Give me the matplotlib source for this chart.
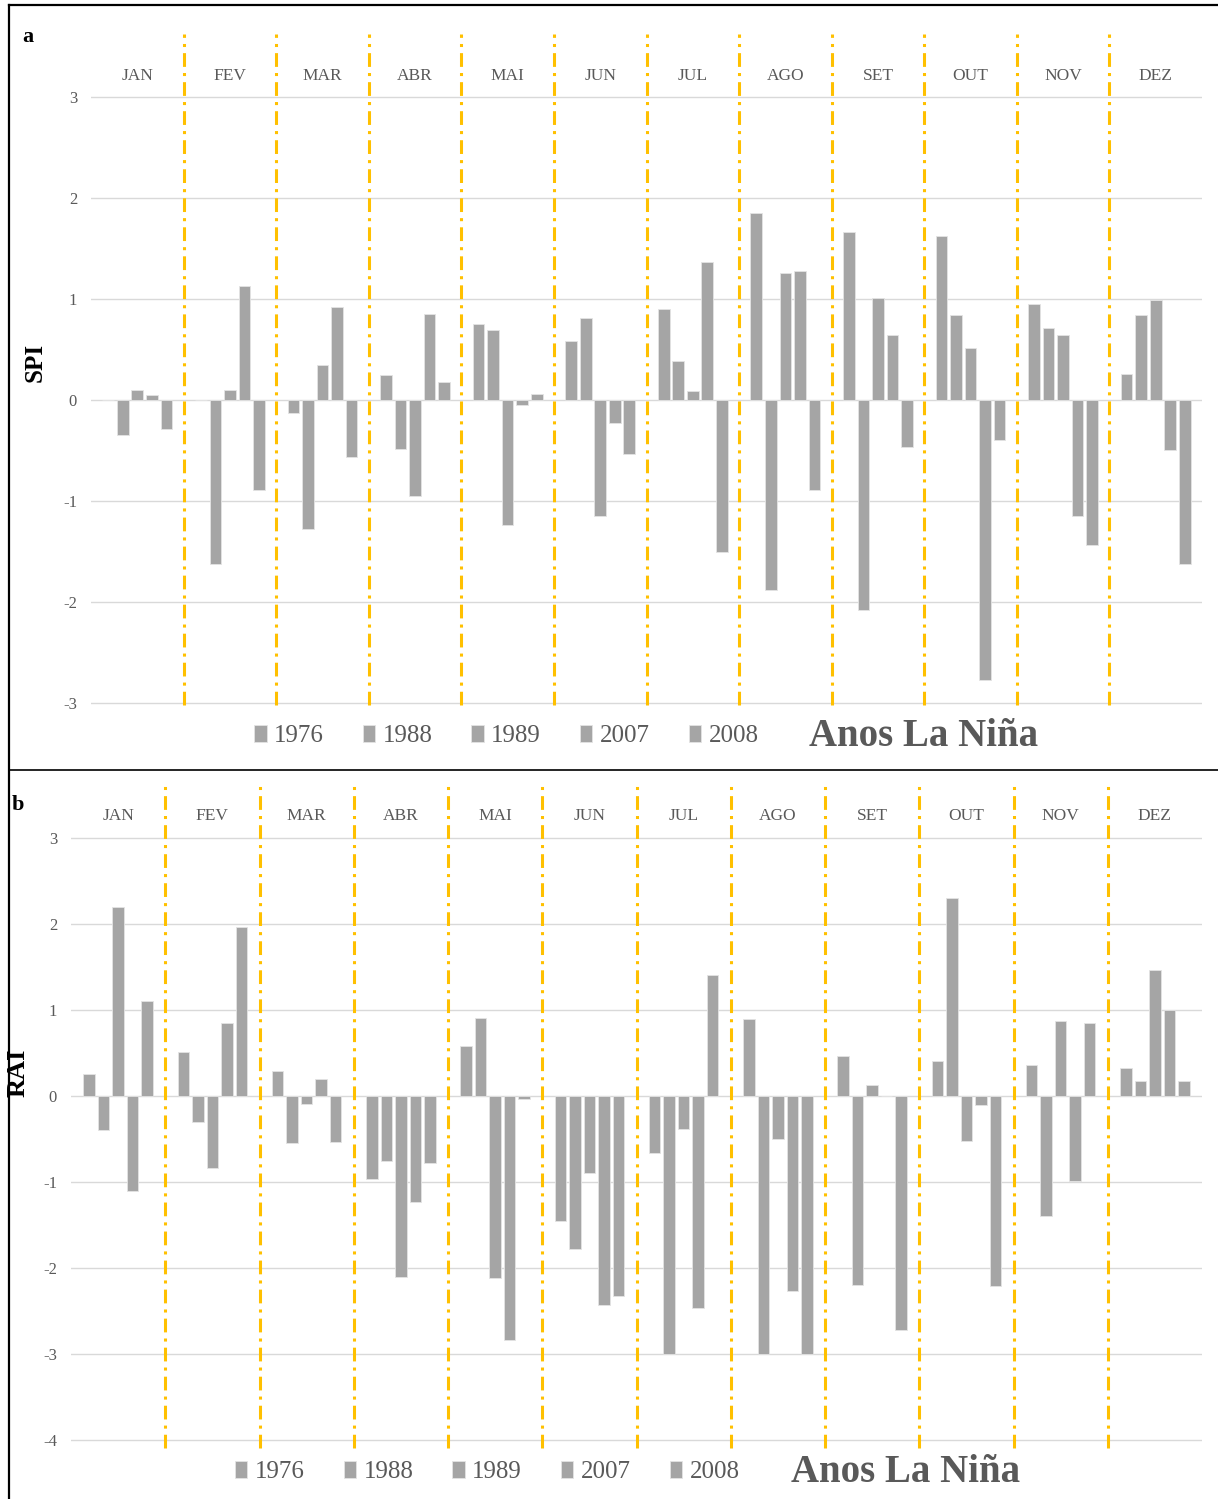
import matplotlib
matplotlib.use("Agg")
import matplotlib.pyplot as plt
from matplotlib.lines import Line2D
import numpy as np

# ---------------- data ----------------
months = ["JAN", "FEV", "MAR", "ABR", "MAI", "JUN", "JUL", "AGO", "SET", "OUT", "NOV", "DEZ"]
years = ["1976", "1988", "1989", "2007", "2008"]

spi_1976 = [0.00, 0.00, -0.13, 0.25, 0.75, 0.58, 0.90, 1.85, 1.66, 1.62, 0.95, 0.26]
spi_1988 = [-0.35, -1.62, -1.28, -0.49, 0.69, 0.81, 0.39, -1.88, -2.08, 0.84, 0.71, 0.84]
spi_1989 = [0.10, 0.10, 0.35, -0.95, -1.24, -1.15, 0.09, 1.26, 1.01, 0.51, 0.64, 0.99]
spi_2007 = [0.05, 1.13, 0.92, 0.85, -0.05, -0.23, 1.37, 1.28, 0.64, -2.77, -1.15, -0.50]
spi_2008 = [-0.29, -0.89, -0.56, 0.18, 0.06, -0.53, -1.51, -0.89, -0.47, -0.40, -1.44, -1.62]

rai_1976 = [0.26, 0.51, 0.29, -0.97, 0.58, -1.45, -0.66, 0.89, 0.46, 0.41, 0.36, 0.33]
rai_1988 = [-0.40, -0.30, -0.55, -0.76, 0.91, -1.78, -3.00, -3.00, -2.20, 2.30, -1.39, 0.17]
rai_1989 = [2.20, -0.84, -0.09, -2.11, -2.12, -0.89, -0.38, -0.50, 0.13, -0.52, 0.87, 1.46]
rai_2007 = [-1.11, 0.85, 0.20, -1.23, -2.84, -2.43, -2.47, -2.27, 0.00, -0.11, -0.99, 1.00]
rai_2008 = [1.11, 1.97, -0.54, -0.78, -0.04, -2.33, 1.41, -3.00, -2.72, -2.21, 0.85, 0.17]

spi_series = [spi_1976, spi_1988, spi_1989, spi_2007, spi_2008]
rai_series = [rai_1976, rai_1988, rai_1989, rai_2007, rai_2008]

spi_ticks = [-3, -2, -1, 0, 1, 2, 3]
rai_ticks = [-4, -3, -2, -1, 0, 1, 2, 3]

# ---------------- style ----------------
W, H = 1218, 1499
SERIF = ["Liberation Serif", "DejaVu Serif"]
BAR = "#a5a5a5"
TXT = "#595959"
GRID = "#d9d9d9"
SEP = "#FFC000"
plt.rcParams["font.family"] = SERIF

fig = plt.figure(figsize=(W / 100, H / 100), dpi=100)
fig.patch.set_facecolor("white")


def fx(px):
    return px / W


def fy(py):
    return 1 - py / H


def draw_panel(rect, series, ticks, ylim, step, width, label_y, legend_xy, title_xy):
    ax = fig.add_axes(rect)
    x = np.arange(len(months))
    for i, (yr, vals) in enumerate(zip(years, series)):
        ax.bar(x + (i - 2) * step, vals, width=width, color=BAR,
               edgecolor="#e4e4e4", linewidth=0.6, label=yr, zorder=3)
    ax.set_xlim(-0.5, len(months) - 0.5)
    ax.set_ylim(*ylim)
    ax.set_yticks(ticks)
    ax.set_yticklabels([str(t) for t in ticks])
    ax.set_xticks([])
    ax.grid(axis="y", color=GRID, linewidth=1.0, zorder=0)
    ax.set_axisbelow(True)
    for s in ax.spines.values():
        s.set_visible(False)
    ax.tick_params(axis="y", length=0, pad=10, labelsize=12, labelcolor=TXT)
    for lab in ax.get_yticklabels():
        lab.set_family(SERIF)
    # month separators
    for k in range(1, len(months)):
        ax.axvline(k - 0.5, ymin=0, ymax=1, color=SEP, lw=2.2,
                   linestyle=(0, (4.5, 2.0, 1.0, 2.0)), zorder=4, clip_on=False)
    # month labels
    for k, m in enumerate(months):
        ax.text(k, label_y, m, ha="center", va="center", fontsize=12.5,
                color=TXT, family=SERIF)
    # legend
    leg = ax.legend(loc="center left", bbox_to_anchor=(fx(legend_xy[0]), fy(legend_xy[1])),
                    bbox_transform=fig.transFigure, ncol=5, frameon=False,
                    fontsize=18, handlelength=0.5, handleheight=0.65,
                    handletextpad=0.3, columnspacing=1.55, borderpad=0,
                    borderaxespad=0)
    for t in leg.get_texts():
        t.set_color(TXT)
    fig.text(fx(title_xy[0]), fy(title_xy[1]), "Anos La Niña", ha="center", va="center",
             fontsize=28, fontweight="bold", color=TXT, family=SERIF)
    return ax


# panel a (SPI)
ax_a = draw_panel([fx(91), fy(705), (1202 - 91) / W, (705 - 34.4) / H],
                  spi_series, spi_ticks, (-3.02, 3.62), 0.157, 0.126, 3.21,
                  (254, 736), (924, 737))
# panel b (RAI)
ax_b = draw_panel([fx(71), fy(1447.7), (1202 - 71) / W, (1447.7 - 781.2) / H],
                  rai_series, rai_ticks, (-4.09, 3.66), 0.154, 0.122, 3.25,
                  (235, 1472), (906, 1472))

# axis titles
fig.text(fx(35), fy(362), "SPI", rotation=90, ha="center", va="center",
         fontsize=18, fontweight="bold", color="black", family=SERIF)
fig.text(fx(18), fy(1073), "RAI", rotation=90, ha="center", va="center",
         fontsize=19, fontweight="bold", color="black", family=SERIF)

# panel letters
fig.text(fx(28), fy(37), "a", ha="center", va="center", fontsize=16,
         fontweight="bold", color="black", family=SERIF)
fig.text(fx(18), fy(805), "b", ha="center", va="center", fontsize=16,
         fontweight="bold", color="black", family=SERIF)

# frame lines
fig.add_artist(Line2D([fx(9), fx(W)], [fy(5), fy(5)], color="black", lw=1.6,
                      transform=fig.transFigure))
fig.add_artist(Line2D([fx(9), fx(9)], [fy(5), fy(H)], color="black", lw=1.6,
                      transform=fig.transFigure))
fig.add_artist(Line2D([fx(9), fx(W)], [fy(770), fy(770)], color="black", lw=1.2,
                      transform=fig.transFigure))

fig.savefig("out.png", dpi=100, facecolor="white")
